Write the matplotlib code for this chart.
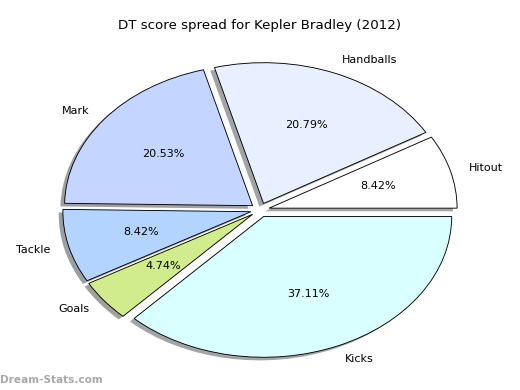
import matplotlib
matplotlib.use("Agg")
import matplotlib.pyplot as plt
import matplotlib.colors as mcolors
import numpy as np

labels = ["Hitout", "Handballs", "Mark", "Tackle", "Goals", "Kicks"]
shares = [8.42, 20.79, 20.53, 8.42, 4.74, 37.11]
colors = ["#ffffff", "#e8f0ff", "#c4d6ff", "#b3d4ff", "#d0ec8c", "#d9ffff"]
title = "DT score spread for Kepler Bradley (2012)"

explode = [0.05] * len(shares)

fig = plt.figure(figsize=(6.5, 4.875), dpi=80)
ax = fig.add_axes([25 / 520, 4 / 390, 470 / 520, 352 / 390])

# shadow: darker copy of each wedge, half transparent, shifted down-left
shadow_colors = [tuple(0.5 + 0.15 * np.array(mcolors.to_rgb(c))) for c in colors]
ax.pie(
    shares,
    colors=shadow_colors,
    explode=explode,
    startangle=0,
    center=(-0.022, -0.022),
    wedgeprops={"linewidth": 0},
)

ax.pie(
    shares,
    labels=labels,
    colors=colors,
    explode=explode,
    autopct="%1.2f%%",
    startangle=0,
    wedgeprops={"edgecolor": "black", "linewidth": 0.8},
    textprops={"fontsize": 10},
)
ax.set_aspect("auto")
ax.set_xlim(-1.25, 1.25)
ax.set_ylim(-1.25, 1.25)
ax.axis("off")

fig.text(0.5, 1 - 25 / 390, title, ha="center", va="center", fontsize=12)
fig.text(0.0, 1 - 380 / 390, "Dream-Stats.com", ha="left", va="center",
         fontsize=9.5, fontweight="bold", color="#a8a8a8")

fig.savefig("out.png", dpi=80)
